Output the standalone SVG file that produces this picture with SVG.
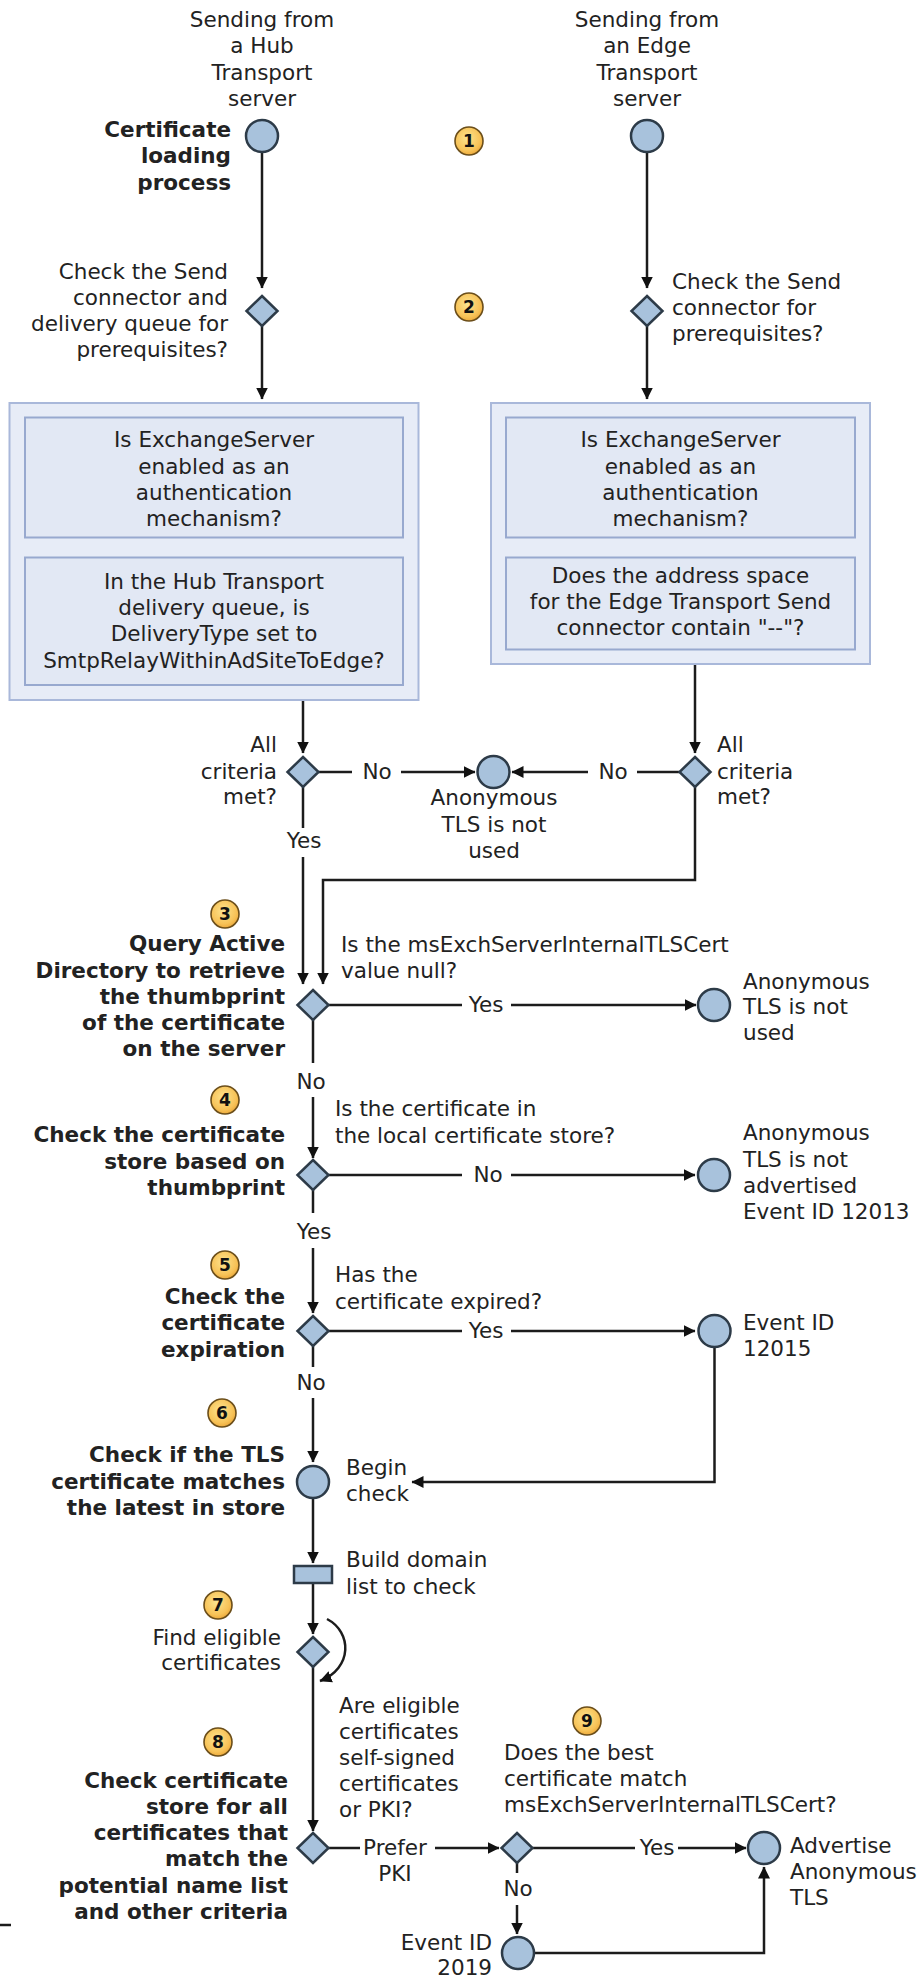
<svg xmlns="http://www.w3.org/2000/svg" width="917" height="1977" viewBox="0 0 917 1977">
  <style>
    .t { font-family: "DejaVu Sans", Verdana, "Liberation Sans", sans-serif; font-size: 21.5px; fill: #222; }
    .b { font-weight: bold; }
    .m { text-anchor: middle; }
    .e { text-anchor: end; }
    .node { fill: #a8c2dc; stroke: #2d3b48; stroke-width: 2.5; }
    .outer { fill: #e7ecf7; stroke: #a9b8da; stroke-width: 2; }
    .inner { fill: #e2e8f4; stroke: #98a9cf; stroke-width: 2; }
    .ln { fill: none; stroke: #1c1c1c; stroke-width: 2.5; }
    .arr { marker-end: url(#ah); }
    .badge { fill: url(#bg); stroke: #6b4e1a; stroke-width: 1.6; }
    .num { font-family: "DejaVu Sans", Verdana, sans-serif; font-weight: bold; font-size: 17px; fill: #111; text-anchor: middle; }
  </style>
  <defs>
    <marker id="ah" markerUnits="userSpaceOnUse" markerWidth="13" markerHeight="13" viewBox="0 0 13 13" refX="11.5" refY="6.5" orient="auto">
      <path d="M0,0.5 L12,6.5 L0,12.5 z" fill="#111"/>
    </marker>
    <radialGradient id="bg" cx="0.45" cy="0.4" r="0.65">
      <stop offset="0" stop-color="#fde48f"/>
      <stop offset="0.7" stop-color="#f7c257"/>
      <stop offset="1" stop-color="#e9a233"/>
    </radialGradient>
  </defs>

  <!-- connectors -->
  <g id="connectors">
    <path class="ln arr" d="M262,153 V288"/>
    <path class="ln arr" d="M262,326 V399"/>
    <path class="ln arr" d="M647,153 V288"/>
    <path class="ln arr" d="M647,326 V399"/>
    <path class="ln arr" d="M303,700 V753"/>
    <path class="ln arr" d="M695,664 V753"/>
    <path class="ln" d="M318.5,772 H352"/>
    <path class="ln arr" d="M401,772 H475"/>
    <path class="ln" d="M679.5,772 H637"/>
    <path class="ln arr" d="M588,772 H512"/>
    <path class="ln" d="M303,787 V828"/>
    <path class="ln arr" d="M303,857 V984"/>
    <path class="ln arr" d="M695,787 V880 H323 V984"/>
    <path class="ln" d="M328.5,1005 H462"/>
    <path class="ln arr" d="M511,1005 H696"/>
    <path class="ln" d="M313,1020 V1063"/>
    <path class="ln arr" d="M313,1097 V1158"/>
    <path class="ln" d="M328.5,1175 H462"/>
    <path class="ln arr" d="M511,1175 H695"/>
    <path class="ln" d="M313,1190 V1213"/>
    <path class="ln arr" d="M313,1248 V1313"/>
    <path class="ln" d="M328.5,1331 H462"/>
    <path class="ln arr" d="M511,1331 H695"/>
    <path class="ln" d="M313,1346 V1367"/>
    <path class="ln arr" d="M313,1398 V1462"/>
    <path class="ln arr" d="M714.5,1348 V1482 H412"/>
    <path class="ln arr" d="M313,1499 V1563"/>
    <path class="ln arr" d="M313,1583 V1634"/>
    <path class="ln arr" d="M327,1619 C352,1632 353,1668 320,1681"/>
    <path class="ln arr" d="M313,1667 V1831"/>
    <path class="ln" d="M328.5,1848 H360"/>
    <path class="ln arr" d="M435,1848 H499"/>
    <path class="ln" d="M532.5,1848 H635"/>
    <path class="ln arr" d="M678,1848 H746"/>
    <path class="ln" d="M517,1863 V1873"/>
    <path class="ln arr" d="M517,1905 V1934"/>
    <path class="ln arr" d="M535,1953 H764 V1867"/>
    <path class="ln" d="M0,1925 H11" stroke-width="2"/>
  </g>

  <!-- connector labels -->
  <g id="connector-labels" class="t">
    <text class="m" x="377" y="779">No</text>
    <text class="m" x="613" y="779">No</text>
    <text class="m" x="304" y="848">Yes</text>
    <text class="m" x="486" y="1012">Yes</text>
    <text class="m" x="311" y="1089">No</text>
    <text class="m" x="488" y="1182">No</text>
    <text class="m" x="314" y="1239">Yes</text>
    <text class="m" x="486" y="1338">Yes</text>
    <text class="m" x="311" y="1390">No</text>
    <text class="m" x="395" y="1855">Prefer</text>
    <text class="m" x="395" y="1881">PKI</text>
    <text class="m" x="657" y="1855">Yes</text>
    <text class="m" x="518" y="1896">No</text>
  </g>

  <!-- step badges -->
  <g id="badges">
    <circle class="badge" cx="469" cy="141" r="14"/><text class="num" x="469" y="147">1</text>
    <circle class="badge" cx="469" cy="307" r="14"/><text class="num" x="469" y="313">2</text>
    <circle class="badge" cx="225" cy="914" r="14"/><text class="num" x="225" y="920">3</text>
    <circle class="badge" cx="225" cy="1100" r="14"/><text class="num" x="225" y="1106">4</text>
    <circle class="badge" cx="225" cy="1265" r="14"/><text class="num" x="225" y="1271">5</text>
    <circle class="badge" cx="222" cy="1413" r="14"/><text class="num" x="222" y="1419">6</text>
    <circle class="badge" cx="218" cy="1605" r="14"/><text class="num" x="218" y="1611">7</text>
    <circle class="badge" cx="218" cy="1742" r="14"/><text class="num" x="218" y="1748">8</text>
    <circle class="badge" cx="587" cy="1721" r="14"/><text class="num" x="587" y="1727">9</text>
  </g>

  <!-- hub transport start -->
  <g id="hub-start">
    <text class="t m" x="262" y="27">Sending from</text>
    <text class="t m" x="262" y="53">a Hub</text>
    <text class="t m" x="262" y="80">Transport</text>
    <text class="t m" x="262" y="106">server</text>
    <circle class="node" cx="262" cy="136" r="16"/>
    <text class="t b e" x="231" y="137">Certificate</text>
    <text class="t b e" x="231" y="163">loading</text>
    <text class="t b e" x="231" y="190">process</text>
  </g>

  <!-- edge transport start -->
  <g id="edge-start">
    <text class="t m" x="647" y="27">Sending from</text>
    <text class="t m" x="647" y="53">an Edge</text>
    <text class="t m" x="647" y="80">Transport</text>
    <text class="t m" x="647" y="106">server</text>
    <circle class="node" cx="647" cy="136" r="16"/>
  </g>

  <g id="hub-prereq">
    <path class="node" d="M262,296 L277.5,311 L262,326 L246.5,311 z"/>
    <text class="t e" x="228" y="279">Check the Send</text>
    <text class="t e" x="228" y="305">connector and</text>
    <text class="t e" x="228" y="331">delivery queue for</text>
    <text class="t e" x="228" y="357">prerequisites?</text>
  </g>

  <g id="edge-prereq">
    <path class="node" d="M647,296 L662.5,311 L647,326 L631.5,311 z"/>
    <text class="t" x="672" y="289">Check the Send</text>
    <text class="t" x="672" y="315">connector for</text>
    <text class="t" x="672" y="341">prerequisites?</text>
  </g>

  <!-- hub criteria box -->
  <g id="hub-criteria">
    <rect class="outer" x="9.5" y="403" width="409" height="297"/>
    <rect class="inner" x="25" y="417.5" width="378" height="120"/>
    <rect class="inner" x="25" y="557.5" width="378" height="127.5"/>
    <text class="t m" x="214" y="447">Is ExchangeServer</text>
    <text class="t m" x="214" y="474">enabled as an</text>
    <text class="t m" x="214" y="500">authentication</text>
    <text class="t m" x="214" y="526">mechanism?</text>
    <text class="t m" x="214" y="589">In the Hub Transport</text>
    <text class="t m" x="214" y="615">delivery queue, is</text>
    <text class="t m" x="214" y="641">DeliveryType set to</text>
    <text class="t m" x="214" y="668">SmtpRelayWithinAdSiteToEdge?</text>
  </g>

  <!-- edge criteria box -->
  <g id="edge-criteria">
    <rect class="outer" x="491" y="403" width="379" height="261"/>
    <rect class="inner" x="506" y="417.5" width="349" height="120"/>
    <rect class="inner" x="506" y="557.5" width="349" height="92"/>
    <text class="t m" x="680.5" y="447">Is ExchangeServer</text>
    <text class="t m" x="680.5" y="474">enabled as an</text>
    <text class="t m" x="680.5" y="500">authentication</text>
    <text class="t m" x="680.5" y="526">mechanism?</text>
    <text class="t m" x="680.5" y="583">Does the address space</text>
    <text class="t m" x="680.5" y="609">for the Edge Transport Send</text>
    <text class="t m" x="680.5" y="635">connector contain "--"?</text>
  </g>

  <g id="hub-all-met">
    <path class="node" d="M303,757 L318.5,772 L303,787 L287.5,772 z"/>
    <text class="t e" x="277" y="752">All</text>
    <text class="t e" x="277" y="779">criteria</text>
    <text class="t e" x="277" y="804">met?</text>
  </g>

  <g id="edge-all-met">
    <path class="node" d="M695,757 L710.5,772 L695,787 L679.5,772 z"/>
    <text class="t" x="717" y="752">All</text>
    <text class="t" x="717" y="779">criteria</text>
    <text class="t" x="717" y="804">met?</text>
  </g>

  <g id="tls-not-used-1">
    <circle class="node" cx="493.5" cy="772" r="16"/>
    <text class="t m" x="494" y="805">Anonymous</text>
    <text class="t m" x="494" y="832">TLS is not</text>
    <text class="t m" x="494" y="858">used</text>
  </g>

  <!-- step 3 -->
  <g id="query-ad">
    <path class="node" d="M313,990 L328.5,1005 L313,1020 L297.5,1005 z"/>
    <text class="t b e" x="285" y="951">Query Active</text>
    <text class="t b e" x="285" y="978">Directory to retrieve</text>
    <text class="t b e" x="285" y="1004">the thumbprint</text>
    <text class="t b e" x="285" y="1030">of the certificate</text>
    <text class="t b e" x="285" y="1056">on the server</text>
    <text class="t" x="341" y="952">Is the msExchServerInternalTLSCert</text>
    <text class="t" x="341" y="978">value null?</text>
  </g>

  <g id="tls-not-used-2">
    <circle class="node" cx="714" cy="1005" r="16"/>
    <text class="t" x="743" y="989">Anonymous</text>
    <text class="t" x="743" y="1014">TLS is not</text>
    <text class="t" x="743" y="1040">used</text>
  </g>

  <!-- step 4 -->
  <g id="check-store">
    <path class="node" d="M313,1160 L328.5,1175 L313,1190 L297.5,1175 z"/>
    <text class="t b e" x="285" y="1142">Check the certificate</text>
    <text class="t b e" x="285" y="1169">store based on</text>
    <text class="t b e" x="285" y="1195">thumbprint</text>
    <text class="t" x="335" y="1116">Is the certificate in</text>
    <text class="t" x="335" y="1143">the local certificate store?</text>
  </g>

  <g id="tls-not-advertised">
    <circle class="node" cx="714" cy="1175" r="16"/>
    <text class="t" x="743" y="1140">Anonymous</text>
    <text class="t" x="743" y="1167">TLS is not</text>
    <text class="t" x="743" y="1193">advertised</text>
    <text class="t" x="743" y="1219">Event ID 12013</text>
  </g>

  <!-- step 5 -->
  <g id="check-expiry">
    <path class="node" d="M313,1316 L328.5,1331 L313,1346 L297.5,1331 z"/>
    <text class="t b e" x="285" y="1304">Check the</text>
    <text class="t b e" x="285" y="1330">certificate</text>
    <text class="t b e" x="285" y="1357">expiration</text>
    <text class="t" x="335" y="1282">Has the</text>
    <text class="t" x="335" y="1309">certificate expired?</text>
  </g>

  <g id="event-12015">
    <circle class="node" cx="714.5" cy="1331" r="16"/>
    <text class="t" x="743" y="1330">Event ID</text>
    <text class="t" x="743" y="1356">12015</text>
  </g>

  <!-- step 6 -->
  <g id="begin-check">
    <circle class="node" cx="313" cy="1482" r="16"/>
    <text class="t b e" x="285" y="1462">Check if the TLS</text>
    <text class="t b e" x="285" y="1489">certificate matches</text>
    <text class="t b e" x="285" y="1515">the latest in store</text>
    <text class="t" x="346" y="1475">Begin</text>
    <text class="t" x="346" y="1501">check</text>
  </g>

  <g id="build-domain-list">
    <rect class="node" x="294" y="1566" width="38" height="17"/>
    <text class="t" x="346" y="1567">Build domain</text>
    <text class="t" x="346" y="1594">list to check</text>
  </g>

  <!-- step 7 -->
  <g id="find-eligible">
    <path class="node" d="M313,1637 L328.5,1652 L313,1667 L297.5,1652 z"/>
    <text class="t e" x="281" y="1645">Find eligible</text>
    <text class="t e" x="281" y="1670">certificates</text>
  </g>

  <!-- step 8 -->
  <g id="check-all-certs">
    <path class="node" d="M313,1833 L328.5,1848 L313,1863 L297.5,1848 z"/>
    <text class="t" x="339" y="1713">Are eligible</text>
    <text class="t" x="339" y="1739">certificates</text>
    <text class="t" x="339" y="1765">self-signed</text>
    <text class="t" x="339" y="1791">certificates</text>
    <text class="t" x="339" y="1817">or PKI?</text>
    <text class="t b e" x="288" y="1788">Check certificate</text>
    <text class="t b e" x="288" y="1814">store for all</text>
    <text class="t b e" x="288" y="1840">certificates that</text>
    <text class="t b e" x="288" y="1866">match the</text>
    <text class="t b e" x="288" y="1893">potential name list</text>
    <text class="t b e" x="288" y="1919">and other criteria</text>
  </g>

  <!-- step 9 -->
  <g id="best-cert-match">
    <path class="node" d="M517,1833 L532.5,1848 L517,1863 L501.5,1848 z"/>
    <text class="t" x="504" y="1760">Does the best</text>
    <text class="t" x="504" y="1786">certificate match</text>
    <text class="t" x="504" y="1812">msExchServerInternalTLSCert?</text>
  </g>

  <g id="advertise-tls">
    <circle class="node" cx="764" cy="1848" r="16"/>
    <text class="t" x="790" y="1853">Advertise</text>
    <text class="t" x="790" y="1879">Anonymous</text>
    <text class="t" x="790" y="1905">TLS</text>
  </g>

  <g id="event-2019">
    <circle class="node" cx="518" cy="1953" r="16"/>
    <text class="t e" x="492" y="1950">Event ID</text>
    <text class="t e" x="492" y="1975">2019</text>
  </g>
</svg>
